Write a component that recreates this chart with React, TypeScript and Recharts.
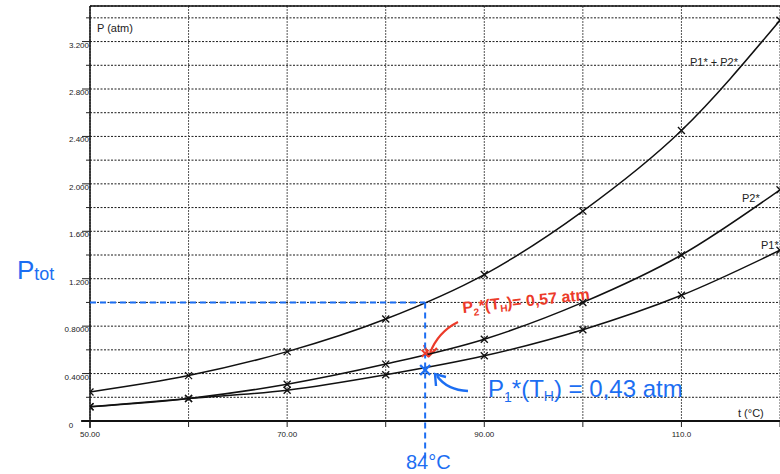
import React from 'react';
import {
  ComposedChart,
  Line,
  XAxis,
  YAxis,
  CartesianGrid,
  ReferenceLine,
  ReferenceDot,
  Customized,
} from 'recharts';

// ---- data ----
const temps = [50, 60, 70, 80, 90, 100, 110, 120];
const p1 = [0.12, 0.19, 0.26, 0.39, 0.55, 0.77, 1.06, 1.44];
const p2 = [0.12, 0.19, 0.31, 0.48, 0.69, 1.0, 1.4, 1.95];
const pSum = [0.245, 0.383, 0.585, 0.86, 1.235, 1.77, 2.45, 3.38];

const xTicks = [50, 60, 70, 80, 90, 100, 110, 120];
const xLabelValues = [50, 70, 90, 110];
const xLabelTexts = ['50.00', '70.00', '90.00', '110.0'];

const yTicks = [0, 0.2, 0.4, 0.6, 0.8, 1.0, 1.2, 1.4, 1.6, 1.8, 2.0, 2.2, 2.4, 2.6, 2.8, 3.0, 3.2, 3.4];
const yLabelValues = [0, 0.4, 0.8, 1.2, 1.6, 2.0, 2.4, 2.8, 3.2];
const yLabelTexts = ['0', '0.4000', '0.8000', '1.200', '1.600', '2.000', '2.400', '2.800', '3.200'];

const seriesNames = ['P1* + P2*', 'P2*', 'P1*'];

// annotation values
const tH = 84;
const pTot = 1.0;
const p1AtTH = 0.43;
const p2AtTH = 0.57;

const data = temps.map((t, i) => ({ t, p1: p1[i], p2: p2[i], sum: pSum[i] }));

const FONT = '"Liberation Sans", Arial, sans-serif';
const BLUE = '#1c6ef2';
const RED = '#ec3b2a';

const labelFor = (v: number, vals: number[], texts: string[]) => {
  const i = vals.findIndex((a) => Math.abs(a - v) < 1e-6);
  return i >= 0 ? texts[i] : null;
};

const YTick = (props: any) => {
  const { x, y, payload } = props;
  const lab = labelFor(payload.value, yLabelValues, yLabelTexts);
  if (payload.value === 0) {
    return (
      <g>
        <text x={x - 19} y={y + 7} textAnchor="middle" fontSize={8} fontFamily={FONT} fill="#222">
          0
        </text>
      </g>
    );
  }
  return (
    <g>
      <line x1={x - (lab ? 8 : 4)} x2={x} y1={y} y2={y} stroke="#222" strokeWidth={1} />
      {lab && (
        <text x={x - 1} y={y + 6} textAnchor="end" fontSize={8} fontFamily={FONT} fill="#222">
          {lab}
        </text>
      )}
    </g>
  );
};

const XTick = (props: any) => {
  const { x, y, payload } = props;
  const lab = labelFor(payload.value, xLabelValues, xLabelTexts);
  return (
    <g>
      <line x1={x} x2={x} y1={y} y2={y + 6} stroke="#222" strokeWidth={1} />
      {lab && (
        <text x={x} y={y + 16} textAnchor="middle" fontSize={8} fontFamily={FONT} fill="#222">
          {lab}
        </text>
      )}
    </g>
  );
};

const crossDot = (color: string, s: number, w: number) => (props: any) => {
  const { cx, cy, index } = props;
  if (cx == null || cy == null) return <g key={`n${index}`} />;
  return (
    <g key={`c${index}`}>
      <line x1={cx - s} y1={cy - s} x2={cx + s} y2={cy + s} stroke={color} strokeWidth={w} />
      <line x1={cx - s} y1={cy + s} x2={cx + s} y2={cy - s} stroke={color} strokeWidth={w} />
    </g>
  );
};

const Annotations = () => (
  <g fontFamily={FONT}>
    {/* axis titles */}
    <text x={97} y={32} fontSize={11} fill="#222">P (atm)</text>
    <text x={738} y={417} fontSize={11} fill="#222">t (°C)</text>
    {/* series labels */}
    <text x={690} y={66} fontSize={11} fill="#222">{seriesNames[0]}</text>
    <text x={742} y={202} fontSize={11} fill="#222">{seriesNames[1]}</text>
    <text x={761} y={249} fontSize={11} fill="#222">{seriesNames[2]}</text>

    {/* handwritten blue: Ptot */}
    <text x={17} y={279} fontSize={26} fill={BLUE}>
      P<tspan fontSize={18} dy={1}>tot</tspan>
    </text>
    {/* 84 °C */}
    <text x={406} y={469} fontSize={20} fill={BLUE}>84°C</text>

    {/* red annotation */}
    <g transform="rotate(-6 463 313)">
      <text x={463} y={313} fontSize={16} fill={RED} fontWeight="bold">
        P<tspan fontSize={10} dy={4}>2</tspan>
        <tspan dy={-4}>*(T</tspan>
        <tspan fontSize={10} dy={3}>H</tspan>
        <tspan dy={-3}>)= 0,57 atm</tspan>
      </text>
    </g>
    <path d="M 458 322 Q 438 332 430 353" fill="none" stroke={RED} strokeWidth={2.2} />
    <path d="M 424 345 L 429 356 L 437 348" fill="none" stroke={RED} strokeWidth={2.2} />

    {/* blue annotation */}
    <text x={488} y={397} fontSize={24} fill={BLUE}>
      P<tspan fontSize={14} dy={5}>1</tspan>
      <tspan dy={-5}>*(T</tspan>
      <tspan fontSize={14} dy={4}>H</tspan>
      <tspan dy={-4}>) = 0,43 atm</tspan>
    </text>
    <path d="M 468 391 Q 447 390 437 376" fill="none" stroke={BLUE} strokeWidth={2.4} />
    <path d="M 436 386 L 435 374 L 446 377" fill="none" stroke={BLUE} strokeWidth={2.4} />
  </g>
);

export default function App() {
  return (
    <div style={{ position: 'absolute', left: 0, top: 0, width: 780, height: 474, background: '#fff' }}>
      <ComposedChart
        width={780}
        height={474}
        data={data}
        margin={{ top: 6, right: 0, bottom: 0, left: 0 }}
      >
        <CartesianGrid horizontal={true} vertical={false} stroke="#1a1a1a" strokeDasharray="2 1.5" strokeWidth={1} />
        <CartesianGrid horizontal={false} vertical={true} stroke="#555" strokeDasharray="2 1" strokeWidth={1} />
        <XAxis
          dataKey="t"
          type="number"
          domain={[50, 120]}
          ticks={xTicks}
          interval={0}
          allowDataOverflow
          tickSize={0}
          tickMargin={0}
          tickLine={false}
          axisLine={false}
          tick={<XTick />}
          height={53}
        />
        <YAxis
          type="number"
          domain={[0, 3.5]}
          ticks={yTicks}
          interval={0}
          allowDataOverflow
          tickSize={0}
          tickMargin={0}
          tickLine={false}
          axisLine={false}
          tick={<YTick />}
          width={90}
        />
        {/* frame / axes */}
        <ReferenceLine y={3.5} stroke="#111" strokeWidth={1.5} ifOverflow="visible" />
        <ReferenceLine
          segment={[{ x: 49.1, y: 0 }, { x: 120, y: 0 }]}
          stroke="#111"
          strokeWidth={2}
          ifOverflow="visible"
        />
        <ReferenceLine
          segment={[{ x: 50, y: -0.06 }, { x: 50, y: 3.5 }]}
          stroke="#111"
          strokeWidth={1.5}
          ifOverflow="visible"
        />

        <Line type="monotone" dataKey="sum" stroke="#111" strokeWidth={1.5} dot={crossDot('#111', 3.5, 1.3)} isAnimationActive={false} />
        <Line type="monotone" dataKey="p2" stroke="#111" strokeWidth={1.5} dot={crossDot('#111', 3.5, 1.3)} isAnimationActive={false} />
        <Line type="monotone" dataKey="p1" stroke="#111" strokeWidth={1.5} dot={crossDot('#111', 3.5, 1.3)} isAnimationActive={false} />

        {/* handwritten dashed construction lines */}
        <ReferenceLine
          segment={[{ x: 50, y: pTot }, { x: tH, y: pTot }]}
          stroke={BLUE}
          strokeWidth={2}
          strokeDasharray="6 4"
          ifOverflow="visible"
        />
        <ReferenceLine
          segment={[{ x: tH, y: pTot }, { x: tH, y: -0.35 }]}
          stroke={BLUE}
          strokeWidth={2}
          strokeDasharray="6 4"
          ifOverflow="visible"
        />
        <ReferenceDot x={tH} y={p2AtTH} r={4} ifOverflow="visible" shape={crossDot(RED, 3.5, 2)} />
        <ReferenceDot x={tH} y={p1AtTH} r={5} ifOverflow="visible" shape={crossDot(BLUE, 5, 2.4)} />

        <Customized component={Annotations} />
      </ComposedChart>
    </div>
  );
}
